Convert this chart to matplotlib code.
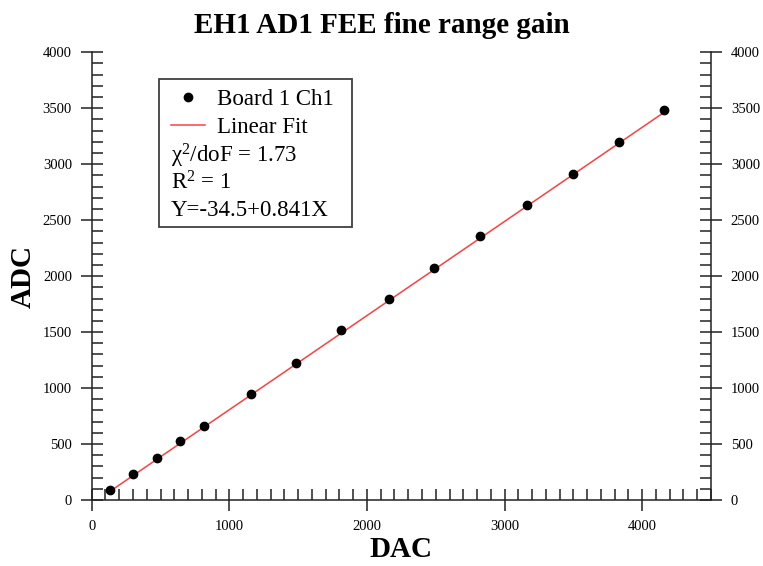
import matplotlib.pyplot as plt
import matplotlib.patches as mpatches
from matplotlib.ticker import MultipleLocator
import numpy as np

plt.rcParams['font.family'] = ['Liberation Serif', 'DejaVu Serif']
plt.rcParams['mathtext.fontset'] = 'custom'
plt.rcParams['mathtext.rm'] = 'Liberation Serif'
plt.rcParams['mathtext.it'] = 'Liberation Serif:italic'

# DAC setting vs measured ADC, board 1 channel 1
dac = [133, 303, 471, 644, 818, 1154, 1487, 1815, 2157, 2485, 2825, 3166, 3496, 3834, 4162]
adc = [89, 232, 378, 527, 661, 945, 1222, 1519, 1794, 2076, 2362, 2636, 2916, 3202, 3485]

# linear fit result
intercept = -34.5
slope = 0.841
chi2_dof = 1.73
r2 = 1

fig = plt.figure(figsize=(7.63, 5.66), dpi=100)
ax = fig.add_axes([0.1202, 0.1166, 0.8116, 0.791])

fit_x = np.array([dac[0], dac[-1]])
fit_y = intercept + slope * fit_x
ax.plot(fit_x, fit_y, color='#ff4040', lw=1.1, label='Linear Fit', zorder=2)
ax.plot(dac, adc, 'o', color='black', ms=6, label='Board 1 Ch1', zorder=3)

ax.set_xlim(0, 4500)
ax.set_ylim(0, 4000)
ax.xaxis.set_major_locator(MultipleLocator(1000))
ax.xaxis.set_minor_locator(MultipleLocator(100))
ax.yaxis.set_major_locator(MultipleLocator(500))
ax.yaxis.set_minor_locator(MultipleLocator(100))

axis_col = '#222222'
for side in ['left', 'bottom', 'right']:
    ax.spines[side].set_color(axis_col)
    ax.spines[side].set_linewidth(1.1)
ax.spines['top'].set_visible(False)

ax.tick_params(which='major', direction='inout', length=16.5, width=1.1,
               color=axis_col, labelsize=10.5, pad=2,
               right=True, labelright=True, top=False)
ax.tick_params(which='minor', direction='in', length=8, width=1.1,
               color=axis_col, right=True, top=False)
ax.tick_params(axis='y', which='major', pad=6)
ax.tick_params(axis='x', which='major', pad=6)

ax.set_xlabel('DAC', fontsize=21, fontweight='bold', labelpad=2)
ax.set_ylabel('ADC', fontsize=21, fontweight='bold', labelpad=4)
fig.suptitle('EH1 AD1 FEE fine range gain', fontsize=21, fontweight='bold', x=0.5, y=0.978)

# legend box with fit statistics
box = mpatches.Rectangle((0.108, 0.610), 0.313, 0.331, transform=ax.transAxes,
                         fill=False, edgecolor='#404040', lw=1.3, zorder=4)
ax.add_patch(box)

handles, labels = ax.get_legend_handles_labels()
leg = ax.legend(handles[::-1], labels[::-1], loc='upper left',
                bbox_to_anchor=(0.128, 0.918), frameon=False, fontsize=16.5,
                handlelength=1.5, handletextpad=0.5, labelspacing=0.3,
                borderpad=0.0, borderaxespad=0.0)

stats = ['χ$^2$/doF = %.2f' % chi2_dof,
         'R$^2$ = %d' % r2,
         'Y=%.1f+%.3fX' % (intercept, slope)]
for i, s in enumerate(stats):
    ax.text(0.128, 0.768 - i * 0.0603, s, transform=ax.transAxes,
            fontsize=16.5, va='center', ha='left')

fig.savefig('out.png', dpi=100)
